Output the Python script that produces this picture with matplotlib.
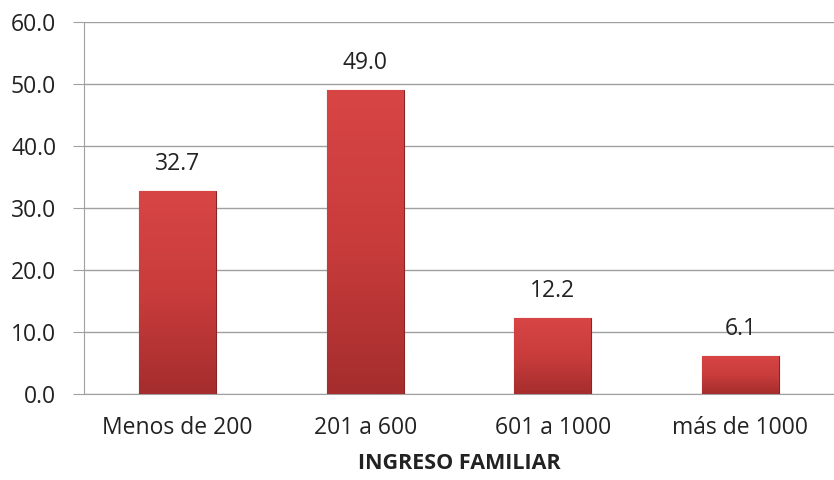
import matplotlib
matplotlib.use("Agg")
import matplotlib.pyplot as plt
import numpy as np
from matplotlib.colors import LinearSegmentedColormap

categories = ["Menos de 200", "201 a 600", "601 a 1000", "más de 1000"]
values = [32.7, 49.0, 12.2, 6.1]
yticks = [0, 10, 20, 30, 40, 50, 60]

plt.rcParams['font.family'] = ['Open Sans', 'DejaVu Sans']

fig = plt.figure(figsize=(8.34, 4.8), dpi=100)
ax = fig.add_axes([84/834, 86/480, 750/834, 372/480])

x = np.arange(len(categories))
bars = ax.bar(x, values, width=0.41, color='#c63b3b', edgecolor='#8a2424', linewidth=0.8, zorder=3)

cmap = LinearSegmentedColormap.from_list('r', ['#a52d2d', '#c93c3c', '#d84545'])
grad = np.linspace(0, 1, 256).reshape(-1, 1)
for b in bars:
    x0, y0 = b.get_x(), b.get_y()
    w, h = b.get_width(), b.get_height()
    im = ax.imshow(grad, extent=[x0, x0 + w, y0, y0 + h], origin='lower', cmap=cmap,
                   aspect='auto', zorder=3.5)
    im.set_clip_path(b)
    ax.text(x0 + w / 2, h + 2.4, f"{h:.1f}", ha='center', va='bottom', fontsize=16.5, color='#222222')

ax.set_xlim(-0.5, 3.5)
ax.set_ylim(0, 60)
ax.set_yticks(yticks)
ax.set_yticklabels([f"{v:.1f}" for v in yticks], fontsize=16.5, color='#222222')
ax.set_xticks(x)
ax.set_xticklabels(categories, fontsize=16.5, color='#222222')
ax.tick_params(axis='x', length=0, pad=16)
ax.tick_params(axis='y', length=8, color='#a0a0a0', pad=12)
ax.grid(axis='y', color='#a0a0a0', linewidth=1, zorder=0)
for s in ['top', 'right']:
    ax.spines[s].set_visible(False)
for s in ['left', 'bottom']:
    ax.spines[s].set_color('#a0a0a0')
ax.set_xlabel("INGRESO FAMILIAR", fontsize=15.5, fontweight='bold', color='#222222', labelpad=9)

fig.savefig("out.png", dpi=100)
